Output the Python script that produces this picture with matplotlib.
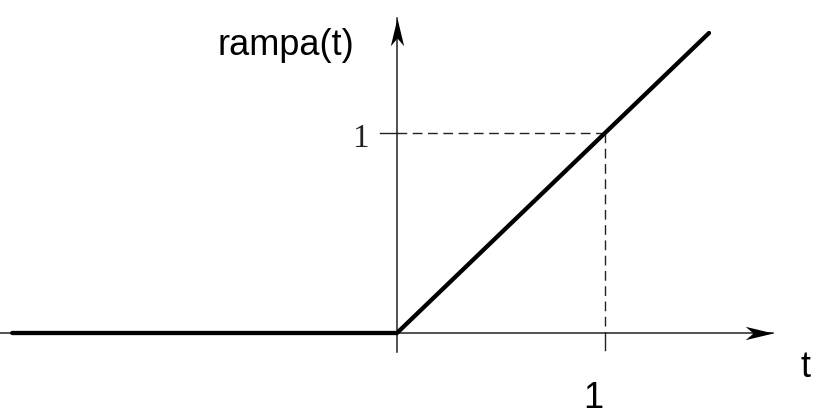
import matplotlib
matplotlib.use('Agg')
import matplotlib.pyplot as plt
from matplotlib.path import Path
from matplotlib.transforms import Affine2D

# ramp: zero for t<0, then rampa(t) = t
t = [-1.85, 0.0, 1.5]
rampa = [0.0, 0.0, 1.5]

# marked point on both axes
t_mark = 1.0
r_mark = 1.0

# axis extents (data units)
t_axis = (-1.91, 1.81)
r_axis = (-0.095, 1.575)

fig = plt.figure(figsize=(8.16, 4.2), dpi=100)
ax = fig.add_axes([0, 0, 1, 1])
ax.set_xlim(-397 / 208, 419 / 208)
ax.set_ylim(-87 / 200, 333 / 200)
ax.axis('off')


def head(angle):
    # latex-like "stealth" arrow head, tip at the origin
    p = Path([(0, 0), (-1, 0.24), (-0.72, 0), (-1, -0.24), (0, 0)],
             [Path.MOVETO, Path.LINETO, Path.LINETO, Path.LINETO, Path.CLOSEPOLY])
    return p.transformed(Affine2D().rotate_deg(angle))


axis_col = '#222222'
# axes
ax.plot(t_axis, [0, 0], color=axis_col, lw=1.1, zorder=2)
ax.plot([0, 0], r_axis, color=axis_col, lw=1.1, zorder=2)
ax.plot(t_axis[1], 0, marker=head(0), ms=40, color='black', mew=0, zorder=3)
ax.plot(0, r_axis[1], marker=head(90), ms=40, color='black', mew=0, zorder=3)

# dashed guides and small ticks
ax.plot([0, t_mark], [r_mark, r_mark], color=axis_col, lw=1.0, ls=(0, (7, 4)))
ax.plot([t_mark, t_mark], [r_mark, 0], color=axis_col, lw=1.0, ls=(0, (7, 4)))
ax.plot([-0.08, 0], [r_mark, r_mark], color=axis_col, lw=1.0)
ax.plot([t_mark, t_mark], [0, -0.085], color=axis_col, lw=1.0)

# the ramp
ax.plot(t, rampa, color='black', lw=3.1, solid_capstyle='round', zorder=4)

# labels
ax.text(-0.861, 1.39, 'rampa(t)', fontsize=26, family='Liberation Sans',
        ha='left', va='baseline')
ax.text(-0.135, 0.93, '1', fontsize=24, family='Liberation Serif',
        ha='right', va='baseline', color='#222222')
ax.text(0.945, -0.375, '1', fontsize=26, family='Liberation Sans',
        ha='center', va='baseline')
ax.text(1.942, -0.22, 't', fontsize=26, family='Liberation Sans',
        ha='left', va='baseline')

fig.savefig('out.png', dpi=100)
